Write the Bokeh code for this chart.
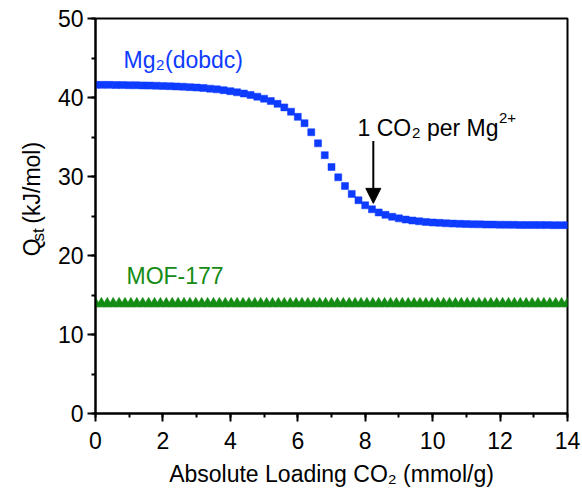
import math
from bokeh.plotting import figure
from bokeh.layouts import row
from bokeh.models import Range1d, SingleIntervalTicker, Label, Arrow, NormalHead
from bokeh.core.properties import value
from bokeh.embed import file_html
from bokeh.resources import INLINE

# ---- data ----
mg_x = [0.0, 0.2, 0.4, 0.6, 0.8, 1.0, 1.2, 1.4, 1.6, 1.8, 2.0, 2.2, 2.4, 2.6, 2.8,
        3.0, 3.2, 3.4, 3.6, 3.8, 4.0, 4.2, 4.4, 4.6, 4.8, 5.0, 5.2, 5.4, 5.6, 5.8,
        6.0, 6.2, 6.4, 6.6, 6.8, 7.0, 7.2, 7.4, 7.6, 7.8, 8.0, 8.2, 8.4, 8.6, 8.8,
        9.0, 9.2, 9.4, 9.6, 9.8, 10.0, 10.2, 10.4, 10.6, 10.8, 11.0, 11.2, 11.4, 11.6, 11.8,
        12.0, 12.2, 12.4, 12.6, 12.8, 13.0, 13.2, 13.4, 13.6, 13.8, 14.0]
mg_q = [41.6, 41.6, 41.6, 41.58, 41.57, 41.56, 41.55, 41.53, 41.51, 41.49, 41.46, 41.43, 41.4, 41.36, 41.31,
        41.26, 41.2, 41.12, 41.03, 40.93, 40.8, 40.66, 40.5, 40.32, 40.1, 39.85, 39.55, 39.2, 38.75, 38.2,
        37.55, 36.75, 35.6, 34.2, 32.7, 31.2, 29.9, 28.8, 27.8, 27.0, 26.35, 25.85, 25.45, 25.15, 24.9,
        24.7, 24.55, 24.43, 24.33, 24.25, 24.18, 24.13, 24.08, 24.04, 24.01, 23.98, 23.96, 23.94, 23.92, 23.91,
        23.9, 23.89, 23.88, 23.87, 23.86, 23.86, 23.85, 23.85, 23.84, 23.84, 23.84]

mof_x = [0.0, 0.175, 0.35, 0.525, 0.7, 0.875, 1.05, 1.225, 1.4, 1.575, 1.75, 1.925, 2.1, 2.275,
         2.45, 2.625, 2.8, 2.975, 3.15, 3.325, 3.5, 3.675, 3.85, 4.025, 4.2, 4.375, 4.55, 4.725,
         4.9, 5.075, 5.25, 5.425, 5.6, 5.775, 5.95, 6.125, 6.3, 6.475, 6.65, 6.825, 7.0, 7.175,
         7.35, 7.525, 7.7, 7.875, 8.05, 8.225, 8.4, 8.575, 8.75, 8.925, 9.1, 9.275, 9.45, 9.625,
         9.8, 9.975, 10.15, 10.325, 10.5, 10.675, 10.85, 11.025, 11.2, 11.375, 11.55, 11.725,
         11.9, 12.075, 12.25, 12.425, 12.6, 12.775, 12.95, 13.125, 13.3, 13.475, 13.65, 13.825, 14.0]
mof_q = [13.9] * len(mof_x)

x_title = "Absolute Loading CO₂ (mmol/g)"
y_title_parts = ["Q", "st", "(kJ/mol)"]

# annotation anchors (data units)
mg_label_pos = (0.83, 44.7)
mof_label_pos = (0.92, 17.4)
note_pos = (7.77, 36.2)
arrow_x = 8.24
arrow_y = (34.5, 26.6)

FONT = "Liberation Sans"
BLUE = "#0d3bff"
GREEN = "#148c14"
BIG = "23px"
SMALL = "15px"
LEFT_W = 50
H = 490

# ---- narrow strip holding the rotated y title ----
side = figure(width=LEFT_W, height=H, output_backend="svg", toolbar_location=None,
              x_range=Range1d(0, LEFT_W), y_range=Range1d(0, H),
              min_border=0, min_border_left=0, min_border_right=0,
              min_border_top=0, min_border_bottom=0)
side.axis.visible = False
side.grid.visible = False
side.outline_line_color = None
ybase = H - 295
side.text(x=[31], y=[ybase], text=[y_title_parts[0]], angle=math.pi / 2,
          text_font=value(FONT), text_font_size=value(BIG), text_color="black",
          text_baseline="alphabetic", text_align="left")
side.text(x=[38], y=[ybase + 18.5], text=[y_title_parts[1]], angle=math.pi / 2,
          text_font=value(FONT), text_font_size=value("17px"), text_color="black",
          text_baseline="alphabetic", text_align="left")
side.text(x=[31], y=[ybase + 40.5], text=[y_title_parts[2]], angle=math.pi / 2,
          text_font=value(FONT), text_font_size=value(BIG), text_color="black",
          text_baseline="alphabetic", text_align="left")

# ---- main plot ----
p = figure(width=582 - LEFT_W, height=H, output_backend="svg", toolbar_location=None,
           x_range=Range1d(0, 14), y_range=Range1d(0, 50),
           min_border_left=95 - LEFT_W, min_border_right=15, min_border_top=18, min_border_bottom=77)

p.xgrid.visible = False
p.ygrid.visible = False
p.outline_line_color = "black"
p.outline_line_width = 2
p.outline_line_alpha = 1.0

for ax in (p.xaxis[0], p.yaxis[0]):
    ax.axis_line_width = 2
    ax.major_tick_line_width = 2
    ax.minor_tick_line_width = 2
    ax.major_tick_in = 0
    ax.major_tick_out = 8
    ax.minor_tick_in = 0
    ax.minor_tick_out = 4
    ax.major_label_text_font = FONT
    ax.major_label_text_font_size = BIG
    ax.major_label_text_color = "black"
    ax.axis_label_text_font = FONT
    ax.axis_label_text_font_size = BIG
    ax.axis_label_text_font_style = "normal"
    ax.axis_label_text_color = "black"

p.xaxis.ticker = SingleIntervalTicker(interval=2, num_minor_ticks=2)
p.yaxis.ticker = SingleIntervalTicker(interval=10, num_minor_ticks=2)
p.xaxis.axis_label = x_title
p.xaxis.major_label_standoff = 10
p.yaxis.major_label_standoff = 4
p.xaxis.axis_label_standoff = 9

p.scatter(mg_x, mg_q, marker="square", size=7, fill_color=BLUE, line_color=BLUE, line_width=0.5)
p.scatter(mof_x, mof_q, marker="triangle", size=11, fill_color=GREEN, line_color=GREEN, line_width=0.5)


def piece(pos, text, color, size=BIG, dx=0, dy=0):
    p.add_layout(Label(x=pos[0], y=pos[1], text=text, text_font=FONT, text_font_size=size,
                       text_color=color, text_baseline="alphabetic", text_align="left",
                       x_offset=dx, y_offset=dy))


# Mg2(dobdc)
piece(mg_label_pos, "Mg", BLUE)
piece(mg_label_pos, "2", BLUE, SMALL, dx=32.5, dy=-5)
piece(mg_label_pos, "(dobdc)", BLUE, dx=41.5)

# MOF-177
piece(mof_label_pos, "MOF-177", GREEN)

# 1 CO2 per Mg2+
piece(note_pos, "1 CO", "black")
piece(note_pos, "2", "black", SMALL, dx=54.5, dy=-5)
piece(note_pos, "per Mg", "black", dx=69.5)
piece(note_pos, "2+", "black", SMALL, dx=141.5, dy=10)

p.add_layout(Arrow(x_start=arrow_x, y_start=arrow_y[0], x_end=arrow_x, y_end=arrow_y[1],
                   line_width=2, line_color="black",
                   end=NormalHead(size=15, fill_color="black", line_color="black", line_width=1)))

layout = row(side, p, spacing=0)
open("out.html", "w").write(file_html(layout, INLINE))
